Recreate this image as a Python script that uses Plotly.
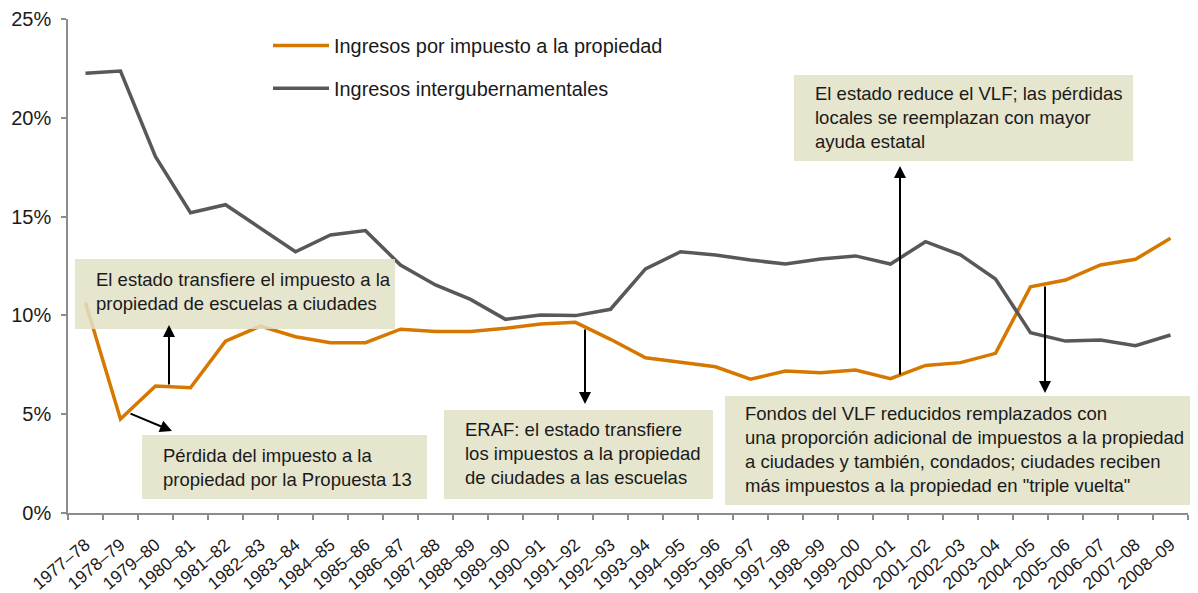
import plotly.graph_objects as go

# ---------------- data ----------------
years = ["1977–78", "1978–79", "1979–80", "1980–81", "1981–82", "1982–83", "1983–84",
         "1984–85", "1985–86", "1986–87", "1987–88", "1988–89", "1989–90", "1990–91",
         "1991–92", "1992–93", "1993–94", "1994–95", "1995–96", "1996–97", "1997–98",
         "1998–99", "1999–00", "2000–01", "2001–02", "2002–03", "2003–04", "2004–05",
         "2005–06", "2006–07", "2007–08", "2008–09"]

property_tax = [10.65, 4.75, 6.43, 6.34, 8.70, 9.46, 8.92, 8.62, 8.62, 9.30, 9.18, 9.18,
                9.35, 9.56, 9.65, 8.79, 7.86, 7.62, 7.40, 6.77, 7.18, 7.10, 7.24, 6.80,
                7.47, 7.61, 8.08, 11.45, 11.79, 12.55, 12.84, 13.90]

intergov = [22.25, 22.37, 18.03, 15.20, 15.60, 14.41, 13.22, 14.07, 14.29, 12.55, 11.54,
            10.81, 9.80, 10.02, 9.99, 10.31, 12.35, 13.22, 13.06, 12.80, 12.60, 12.85,
            13.01, 12.60, 13.73, 13.06, 11.84, 9.13, 8.70, 8.76, 8.47, 9.01]

series_names = ["Ingresos por impuesto a la propiedad", "Ingresos intergubernamentales"]

y_ticks = [0, 5, 10, 15, 20, 25]
y_tick_labels = ["0%", "5%", "10%", "15%", "20%", "25%"]

notes = [
    "El estado transfiere el impuesto a la<br>propiedad de escuelas a ciudades",
    "Pérdida del impuesto a la<br>propiedad por la Propuesta 13",
    "ERAF: el estado transfiere<br>los impuestos a la propiedad<br>de ciudades a las escuelas",
    "Fondos del VLF reducidos remplazados con<br>una proporción adicional de impuestos a la propiedad"
    "<br>a ciudades y también, condados; ciudades reciben<br>más impuestos a la propiedad en \"triple vuelta\"",
    "El estado reduce el VLF; las pérdidas<br>locales se reemplazan con mayor<br>ayuda estatal",
]

# ---------------- style ----------------
ORANGE = "#D67800"
GRAY = "#58585A"
BOX = "rgba(226,224,198,0.85)"
AXIS = "#8C8C8C"
FONT = "Liberation Sans, Arial, sans-serif"
TXT = "#1a1a1a"

# page body has an 8px margin: figure origin sits at (8, 8) in the screenshot
OFF = 8
W, H = 1190, 585
PLOT_X0, PLOT_X1, PLOT_Y0, PLOT_Y1 = 68, 1188, 19, 513  # screenshot pixels
L, T = PLOT_X0 - OFF, PLOT_Y0 - OFF
R, B = W - (PLOT_X1 - OFF), H - (PLOT_Y1 - OFF)
PW, PH = PLOT_X1 - PLOT_X0, PLOT_Y1 - PLOT_Y0


def px(x):
    return (x - PLOT_X0) / PW


def py(y):
    return (PLOT_Y1 - y) / PH


fig = go.Figure()
fig.add_trace(go.Scatter(x=years, y=property_tax, mode="lines", name=series_names[0],
                         line=dict(color=ORANGE, width=3.5), legendgroup="a"))
fig.add_trace(go.Scatter(x=years, y=intergov, mode="lines", name=series_names[1],
                         line=dict(color=GRAY, width=3.5), legendgroup="b"))

# annotation boxes (pixel extents)
boxes = [
    (75, 259, 395, 329),
    (142, 435, 427, 499),
    (444, 410, 713, 499),
    (725, 396, 1197, 505),
    (794, 75, 1133, 161),
]
text_pos = [(94, 292), (161, 467), (463, 453), (743, 449), (813, 118)]

shapes = []
for (x0, y0, x1, y1) in boxes:
    shapes.append(dict(type="rect", xref="paper", yref="paper",
                       x0=px(x0), x1=px(x1), y0=py(y1), y1=py(y0),
                       fillcolor=BOX, line=dict(width=0), layer="above"))

annotations = []
for t, (tx, ty) in zip(notes, text_pos):
    annotations.append(dict(text=t, xref="paper", yref="paper", x=px(tx), y=py(ty),
                            xanchor="left", yanchor="middle", align="left", showarrow=False,
                            font=dict(family=FONT, size=18.5, color=TXT)))

# arrows: (tail_x, tail_y, head_x, head_y) in pixels
arrows = [
    (169, 386, 169, 325),
    (129, 413, 172, 431),
    (585, 328, 585, 404),
    (900, 376, 900, 166),
    (1045, 285, 1045, 393),
]
for (tx, ty, hx, hy) in arrows:
    annotations.append(dict(text="", xref="paper", yref="paper", x=px(hx), y=py(hy),
                            ax=tx - hx, ay=ty - hy, showarrow=True, arrowhead=2,
                            arrowsize=1.2, arrowwidth=2, arrowcolor="#000000",
                            standoff=0, startstandoff=0))

fig.update_layout(
    width=W, height=H,
    margin=dict(l=L, r=R, t=T, b=B, pad=0, autoexpand=False),
    paper_bgcolor="white", plot_bgcolor="white",
    font=dict(family=FONT, color=TXT),
    shapes=shapes,
    annotations=annotations,
    showlegend=True,
    legend=dict(x=px(268), y=py(26), xanchor="left", yanchor="top",
                bgcolor="rgba(0,0,0,0)", font=dict(family=FONT, size=19.9, color=TXT),
                traceorder="grouped", tracegroupgap=14, itemwidth=56),
    xaxis=dict(type="category", range=[-0.5, len(years) - 0.5], tickson="boundaries",
               ticks="outside", ticklen=5,
               tickcolor=AXIS, tickwidth=1.5, showline=True, linecolor=AXIS, linewidth=1.5,
               showgrid=False, zeroline=False, tickangle=-40, automargin=False,
               ticklabelstandoff=13,
               tickfont=dict(family=FONT, size=17.5, color=TXT)),
    yaxis=dict(range=[0, 25], tickmode="array", tickvals=y_ticks, ticktext=y_tick_labels,
               ticks="outside", ticklen=5, automargin=False,
               tickcolor=AXIS, tickwidth=1.5, showline=True, linecolor=AXIS, linewidth=1.5,
               showgrid=False, zeroline=False, ticklabelstandoff=6,
               tickfont=dict(family=FONT, size=20, color=TXT)),
)

fig.write_html("out.html")
